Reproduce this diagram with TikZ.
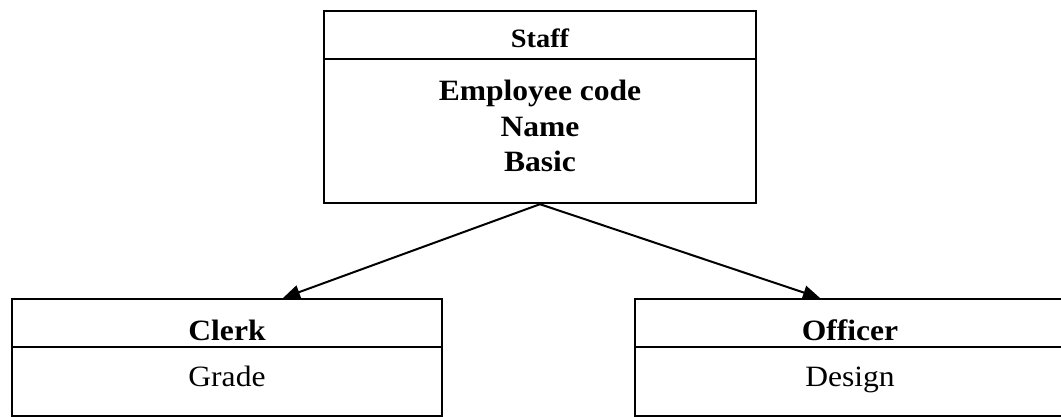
\documentclass[tikz,border=0pt]{standalone}
\usepackage{fontspec}
\setmainfont{Liberation Serif}[FakeStretch=1.07]
\usetikzlibrary{arrows.meta}
\tikzset{
  classbox/.style={draw=black, line width=2.4pt, inner sep=0pt},
  divider/.style={draw=black, line width=2.4pt},
  txt/.style={inner sep=0pt, anchor=base, font=\fontsize{29.5}{35}\selectfont},
  btxt/.style={txt, font=\bfseries\fontsize{29.5}{35}\selectfont},
  htxt/.style={txt, font=\bfseries\fontsize{26.5}{30}\selectfont},
  inherit/.style={draw=black, line width=2pt, -{Triangle[length=17pt,width=14pt]}}
}
\begin{document}
\begin{tikzpicture}[x=1pt,y=-1pt]
\useasboundingbox (0,0) rectangle (1061,417);
% Staff
\node[classbox, minimum width=432pt, minimum height=192pt] (staff) at (540,107) {};
\draw[divider] (324,59) -- (756,59);
\node[htxt] (staffname) at (540,47.3) {Staff};
\node[btxt] (a1) at (540,100.7) {Employee code};
\node[btxt] (a2) at (540,136.7) {Name};
\node[btxt] (a3) at (540,171.7) {Basic};
% Clerk
\node[classbox, minimum width=430pt, minimum height=117pt] (clerk) at (227,357.5) {};
\draw[divider] (12,347) -- (442,347);
\node[btxt] (clerkname) at (227,340.7) {Clerk};
\node[txt] (grade) at (227,386) {Grade};
% Officer
\node[classbox, minimum width=436pt, minimum height=117pt] (officer) at (853,357.5) {};
\draw[divider] (635,347) -- (1071,347);
\node[btxt] (officername) at (850,340.7) {Officer};
\node[txt] (design) at (850,386) {Design};
% connectors
\coordinate (ctip) at (283,298);
\coordinate (otip) at (820,298);
\draw[inherit] (staff.south) -- (ctip);
\draw[inherit] (staff.south) -- (otip);
\end{tikzpicture}
\end{document}
